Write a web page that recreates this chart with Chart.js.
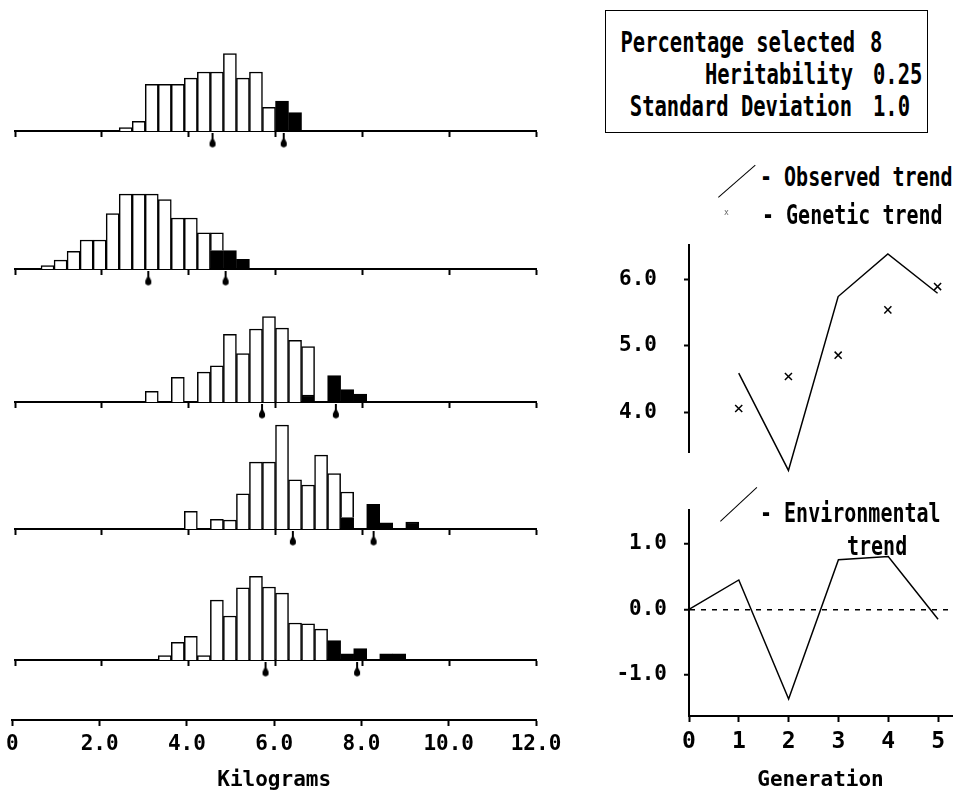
<!DOCTYPE html>
<html>
<head>
<meta charset="utf-8">
<script src="https://cdn.jsdelivr.net/npm/chart.js@4.4.1/dist/chart.umd.min.js"></script>
<style>
html,body{margin:0;padding:0;background:#fff;}
body{width:958px;height:797px;position:relative;overflow:hidden;font-family:'DejaVu Sans Mono','Liberation Mono',monospace;font-weight:bold;color:#000;}
canvas{position:absolute;}
.t{position:absolute;white-space:pre;font-size:20.5px;line-height:20px;height:20px;transform:scaleY(1.35);transform-origin:50% 50%;}
.box{position:absolute;left:605px;top:10px;width:321px;height:121px;border:1.5px solid #000;}
.diag{position:absolute;height:0;border-top:1.5px solid #000;transform-origin:0 0;}
</style>
</head>
<body>
<canvas id="h1" width="560" height="149" style="left:0;top:6px"></canvas>
<canvas id="h2" width="560" height="149" style="left:0;top:144px"></canvas>
<canvas id="h3" width="560" height="149" style="left:0;top:277px"></canvas>
<canvas id="h4" width="560" height="149" style="left:0;top:404px"></canvas>
<canvas id="h5" width="560" height="149" style="left:0;top:535px"></canvas>
<canvas id="kg" width="580" height="97" style="left:0;top:700px"></canvas>
<canvas id="up" width="368" height="287" style="left:590px;top:205px"></canvas>
<canvas id="lo" width="368" height="317" style="left:590px;top:480px"></canvas>

<div class="box"></div>
<div class="t" style="right:103px;top:33px">Percentage selected</div>
<div class="t" style="left:870px;top:33px">8</div>
<div class="t" style="right:105px;top:65px">Heritability</div>
<div class="t" style="left:873px;top:65px">0.25</div>
<div class="t" style="right:106px;top:97px">Standard Deviation</div>
<div class="t" style="left:873px;top:97px">1.0</div>

<div class="diag" style="left:718px;top:197px;width:49px;transform:rotate(-41deg)"></div>
<div class="t" style="left:760px;top:167px;font-size:20px">- Observed trend</div>
<div class="t" style="left:724px;top:203px;font-size:8px;font-weight:normal;color:#666;transform:none">x</div>
<div class="t" style="left:762px;top:205px;font-size:20px">- Genetic trend</div>

<div class="diag" style="left:720px;top:521px;width:50px;transform:rotate(-43deg)"></div>
<div class="t" style="left:760px;top:503px;font-size:20px">- Environmental</div>
<div class="t" style="left:847px;top:536px;font-size:20px">trend</div>

<script>
// ---------- DATA ----------
const binLabels = ['0.15','0.45','0.75','1.05','1.35','1.65','1.95','2.25','2.55','2.85',
  '3.15','3.45','3.75','4.05','4.35','4.65','4.95','5.25','5.55','5.85',
  '6.15','6.45','6.75','7.05','7.35','7.65','7.95','8.25','8.55','8.85',
  '9.15','9.45','9.75','10.05','10.35','10.65','10.95','11.25','11.55','11.85'];

const gen1White = [0,0,0,0,0,0,0,0,4,11, 53,53,53,60,67,67,88,60,67,27, 0,0,0,0,0,0,0,0,0,0, 0,0,0,0,0,0,0,0,0,0];
const gen1Black = [0,0,0,0,0,0,0,0,0,0, 0,0,0,0,0,0,0,0,0,0, 34,21,0,0,0,0,0,0,0,0, 0,0,0,0,0,0,0,0,0,0];
const gen2White = [0,0,4,10,20,33,33,63,85,85, 85,79,58,58,41,20,0,0,0,0, 0,0,0,0,0,0,0,0,0,0, 0,0,0,0,0,0,0,0,0,0];
const gen2Black = [0,0,0,0,0,0,0,0,0,0, 0,0,0,0,0,21,21,11,0,0, 0,0,0,0,0,0,0,0,0,0, 0,0,0,0,0,0,0,0,0,0];
const gen3White = [0,0,0,0,0,0,0,0,0,0, 12,0,28,0,34,41,77,55,83,97, 84,70,55,0,0,0,0,0,0,0, 0,0,0,0,0,0,0,0,0,0];
const gen3Black = [0,0,0,0,0,0,0,0,0,0, 0,0,0,0,0,0,0,0,0,0, 0,0,8,0,30,14,9,0,0,0, 0,0,0,0,0,0,0,0,0,0];
const gen4White = [0,0,0,0,0,0,0,0,0,0, 0,0,0,20,0,11,10,40,76,76, 118,56,50,84,63,29,0,0,0,0, 0,0,0,0,0,0,0,0,0,0];
const gen4Black = [0,0,0,0,0,0,0,0,0,0, 0,0,0,0,0,0,0,0,0,0, 0,0,0,0,0,13,0,28,7,0, 8,0,0,0,0,0,0,0,0,0];
const gen5White = [0,0,0,0,0,0,0,0,0,0, 0,5,20,27,5,68,50,82,95,83, 76,42,41,35,0,0,0,0,0,0, 0,0,0,0,0,0,0,0,0,0];
const gen5Black = [0,0,0,0,0,0,0,0,0,0, 0,0,0,0,0,0,0,0,0,0, 0,0,0,0,22,7,13,0,7,7, 0,0,0,0,0,0,0,0,0,0];

const populationMeans = [4.55, 3.07, 5.69, 6.40, 5.77];
const selectedMeans   = [6.19, 4.85, 7.39, 8.26, 7.88];

const kgTicks = [0, 2, 4, 6, 8, 10, 12];
const kgTickLabels = ['0', '2.0', '4.0', '6.0', '8.0', '10.0', '12.0'];

const generations = [0, 1, 2, 3, 4, 5];
const generationLabels = ['0', '1', '2', '3', '4', '5'];
const observedGens = [1, 2, 3, 4, 5];
const observedTrend = [4.59, 3.13, 5.74, 6.38, 5.79];
const geneticTrend  = [4.06, 4.54, 4.86, 5.54, 5.89];
const environmentalTrend = [0.0, 0.45, -1.37, 0.76, 0.81, -0.15];

const upperTicks = [4, 5, 6];
const upperTickLabels = ['4.0', '5.0', '6.0'];
const lowerTicks = [-1, 0, 1];
const lowerTickLabels = ['-1.0', '0.0', '1.0'];

// ---------- STYLE ----------
const FONT = "'DejaVu Sans Mono', 'Liberation Mono', monospace";
Chart.defaults.font.family = FONT;
Chart.defaults.font.weight = 'bold';
Chart.defaults.color = '#000';

const MARK_Y = -11;
const pin = document.createElement('canvas');
pin.width = 8; pin.height = 16;
(function(){
  const c = pin.getContext('2d');
  c.fillStyle = '#000';
  c.beginPath();
  c.moveTo(3, 0); c.lineTo(5, 0); c.lineTo(5, 6); c.lineTo(7, 10); c.lineTo(7, 13);
  c.quadraticCurveTo(4, 16.5, 1, 13); c.lineTo(1, 10); c.lineTo(3, 6);
  c.closePath(); c.fill();
})();

const baseOpts = {
  responsive: false, animation: false, devicePixelRatio: 1,
  plugins: { legend: { display: false }, tooltip: { enabled: false } }
};
const nz = arr => arr.map(v => v === 0 ? null : v);
const barStyle = { borderColor: '#000', borderWidth: 1.5, xAxisID: 'xb', yAxisID: 'y',
  barPercentage: 1, categoryPercentage: 1, grouped: false };

function makeHist(id, white, black, popMean, selMean) {
  new Chart(document.getElementById(id), {
    type: 'bar',
    data: {
      labels: binLabels,
      datasets: [
        Object.assign({ data: nz(black), backgroundColor: '#000' }, barStyle),
        Object.assign({ data: nz(white), backgroundColor: '#fff' }, barStyle),
        { type: 'scatter', data: [popMean, selMean].map(m => ({ x: m, y: MARK_Y })),
          xAxisID: 'x', yAxisID: 'ym', pointStyle: pin, pointRadius: 14, clip: false }
      ]
    },
    options: Object.assign({}, baseOpts, {
      datasets: { bar: { barPercentage: 1, categoryPercentage: 1, grouped: false } },
      layout: { padding: { left: 12, right: 24, top: 0, bottom: 18 } },
      scales: {
        xb: { type: 'category', display: false, offset: true, stacked: true },
        x: { type: 'linear', min: 0, max: 12, offset: false, position: 'bottom',
             afterBuildTicks: s => { s.ticks = kgTicks.map(v => ({ value: v })); },
             afterFit: s => { s.height = 6; },
             ticks: { display: false },
             grid: { offset: false, drawOnChartArea: false, tickLength: 6, tickWidth: 2, tickColor: '#000', color: '#000' },
             border: { display: true, width: 2, color: '#000' } },
        y: { display: false, min: 0, max: 125, stacked: true },
        ym: { display: false, min: 0, max: 125 }
      }
    })
  });
}

makeHist('h1', gen1White, gen1Black, populationMeans[0], selectedMeans[0]);
makeHist('h2', gen2White, gen2Black, populationMeans[1], selectedMeans[1]);
makeHist('h3', gen3White, gen3Black, populationMeans[2], selectedMeans[2]);
makeHist('h4', gen4White, gen4Black, populationMeans[3], selectedMeans[3]);
makeHist('h5', gen5White, gen5Black, populationMeans[4], selectedMeans[4]);

// Kilograms axis
new Chart(document.getElementById('kg'), {
  type: 'scatter',
  data: { datasets: [] },
  options: Object.assign({}, baseOpts, {
    layout: { padding: { left: 12, right: 44, top: 0, bottom: 0 } },
    scales: {
      x: { type: 'linear', min: 0, max: 12, offset: false,
           afterBuildTicks: s => { s.ticks = kgTicks.map(v => ({ value: v })); },
           afterFit: s => { s.height = 77; },
           ticks: { padding: 6, font: { size: 21, weight: 'bold' }, maxRotation: 0,
                    callback: v => kgTickLabels[kgTicks.indexOf(v)] },
           grid: { drawOnChartArea: false, tickLength: 6, tickWidth: 2, tickColor: '#000', color: '#000' },
           border: { width: 2, color: '#000' },
           title: { display: true, text: 'Kilograms', font: { size: 21, weight: 'bold' }, padding: { top: 2, bottom: 4 } } },
      y: { display: false, min: 0, max: 1 }
    }
  })
});

// Upper right: observed & genetic trend
new Chart(document.getElementById('up'), {
  type: 'line',
  data: { datasets: [
    { label: 'Observed trend', data: observedGens.map((g, i) => ({ x: g, y: observedTrend[i] })),
      borderColor: '#000', borderWidth: 1.5, pointRadius: 0, tension: 0, clip: false, fill: false },
    { type: 'scatter', label: 'Genetic trend', data: observedGens.map((g, i) => ({ x: g, y: geneticTrend[i] })),
      pointStyle: 'crossRot', pointRadius: 5, borderColor: '#000', borderWidth: 1.5, clip: false }
  ]},
  options: Object.assign({}, baseOpts, {
    layout: { padding: { left: 0, right: 6, top: 0, bottom: 0 } },
    scales: {
      x: { type: 'linear', min: 0, max: 5.28, display: false },
      y: { type: 'linear', min: 3.4, max: 6.52,
           afterBuildTicks: s => { s.ticks = upperTicks.map(v => ({ value: v })); },
           afterFit: s => { s.width = 99; },
           ticks: { padding: 27, font: { size: 21, weight: 'bold' },
                    callback: v => upperTickLabels[upperTicks.indexOf(v)] },
           grid: { drawOnChartArea: false, tickLength: 5, tickWidth: 2, tickColor: '#000', color: '#000' },
           border: { width: 2, color: '#000' } }
    }
  })
});

// Lower right: environmental trend
new Chart(document.getElementById('lo'), {
  type: 'line',
  data: { datasets: [
    { label: 'Environmental trend', data: generations.map((g, i) => ({ x: g, y: environmentalTrend[i] })),
      borderColor: '#000', borderWidth: 1.5, pointRadius: 0, tension: 0, clip: false, fill: false }
  ]},
  options: Object.assign({}, baseOpts, {
    layout: { padding: { left: 0, right: 6, top: 30, bottom: 0 } },
    scales: {
      x: { type: 'linear', min: 0, max: 5.28, offset: false,
           afterBuildTicks: s => { s.ticks = generations.map(v => ({ value: v })); },
           afterFit: s => { s.height = 81; },
           ticks: { padding: 6, font: { size: 23, weight: 'bold' }, maxRotation: 0,
                    callback: v => generationLabels[generations.indexOf(v)] },
           grid: { drawOnChartArea: false, tickLength: 6, tickWidth: 2, tickColor: '#000', color: '#000' },
           border: { width: 2, color: '#000' },
           title: { display: true, text: 'Generation', font: { size: 21, weight: 'bold' }, padding: { top: 2, bottom: 4 } } },
      y: { type: 'linear', min: -1.63, max: 1.52,
           afterBuildTicks: s => { s.ticks = lowerTicks.map(v => ({ value: v })); },
           afterFit: s => { s.width = 99; },
           ticks: { padding: 17, font: { size: 21, weight: 'bold' },
                    callback: v => lowerTickLabels[lowerTicks.indexOf(v)] },
           grid: { drawOnChartArea: true, drawTicks: true, tickLength: 5, tickWidth: 2, tickColor: '#000',
                   tickBorderDash: [], lineWidth: 1.5,
                   color: c => (c.tick && c.tick.value === 0) ? '#000' : 'rgba(0,0,0,0)' },
           border: { width: 2, color: '#000', dash: [5, 6] } }
    }
  })
});
</script>
</body>
</html>
